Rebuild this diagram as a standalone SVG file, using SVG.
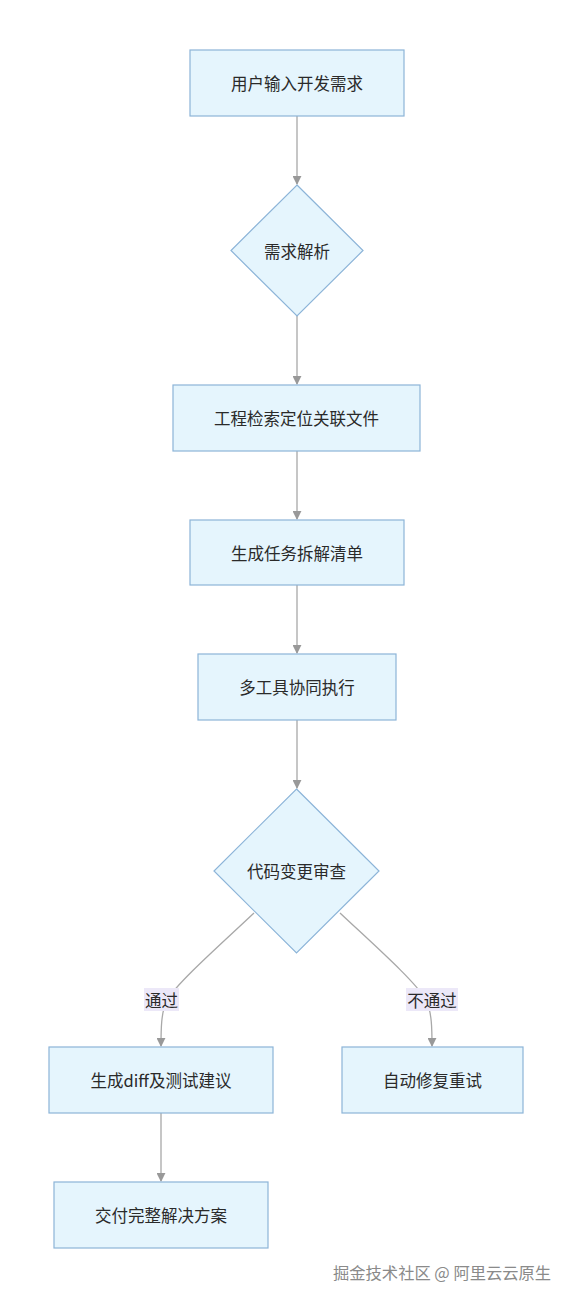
<svg xmlns="http://www.w3.org/2000/svg" width="570" height="1300" viewBox="0 0 570 1300">
<style>
.node rect, .node polygon { fill: #e5f5fd; stroke: #8cb4d8; stroke-width: 1.2; }
.lbl { font-family: "Noto Sans CJK SC", "Noto Sans", sans-serif; font-size: 16.5px; fill: #2a2a2a; text-anchor: middle; dominant-baseline: central; }
.edge { fill: none; stroke: #a8a8a8; stroke-width: 1.3; }
.elbl rect { fill: #ece8f8; }
.wm { font-family: "Noto Sans CJK SC", sans-serif; font-size: 16.3px; fill: #8a8a8a; }
</style>
<defs>
<marker id="arr" viewBox="0 0 10 10" refX="9" refY="5" markerWidth="9" markerHeight="9" markerUnits="userSpaceOnUse" orient="auto">
<path d="M0,0 L10,5 L0,10 z" fill="#999"/>
</marker>
</defs>
<rect width="570" height="1300" fill="#fff"/>
<g id="connectors">
<path class="edge" d="M297,116 L297,184" marker-end="url(#arr)"/>
<path class="edge" d="M297,316 L297,384" marker-end="url(#arr)"/>
<path class="edge" d="M297,451 L297,519" marker-end="url(#arr)"/>
<path class="edge" d="M297,585 L297,653" marker-end="url(#arr)"/>
<path class="edge" d="M297,720 L297,788" marker-end="url(#arr)"/>
<path class="edge" d="M254,913 C220,945 178,982 167,1000 C161,1012 161,1030 161,1046" marker-end="url(#arr)"/>
<path class="edge" d="M340,913 C374,945 416,982 426,1000 C432,1012 432,1030 432,1046" marker-end="url(#arr)"/>
<path class="edge" d="M161,1113 L161,1181" marker-end="url(#arr)"/>
<g class="elbl"><rect x="144" y="988" width="35" height="23"/><text class="lbl" x="161.5" y="999.5">通过</text></g>
<g class="elbl"><rect x="406" y="988" width="52" height="23"/><text class="lbl" x="432" y="999.5">不通过</text></g>
</g>
<g id="n1" class="node"><rect x="190" y="50" width="214" height="66"/><text class="lbl" x="297" y="83">用户输入开发需求</text></g>
<g id="n2" class="node"><polygon points="297,185 363,250.5 297,316 231,250.5"/><text class="lbl" x="297" y="250.5">需求解析</text></g>
<g id="n3" class="node"><rect x="173" y="385" width="247" height="66"/><text class="lbl" x="296.5" y="418">工程检索定位关联文件</text></g>
<g id="n4" class="node"><rect x="190" y="520" width="214" height="65"/><text class="lbl" x="297" y="552.5">生成任务拆解清单</text></g>
<g id="n5" class="node"><rect x="198" y="654" width="198" height="66"/><text class="lbl" x="297" y="687">多工具协同执行</text></g>
<g id="n6" class="node"><polygon points="296.5,789 379,871 296.5,953 214,871"/><text class="lbl" x="296.5" y="871">代码变更审查</text></g>
<g id="n7" class="node"><rect x="49" y="1047" width="224" height="66"/><text class="lbl" x="161" y="1080">生成diff及测试建议</text></g>
<g id="n8" class="node"><rect x="342" y="1047" width="181" height="66"/><text class="lbl" x="432.5" y="1080">自动修复重试</text></g>
<g id="n9" class="node"><rect x="54" y="1182" width="214" height="66"/><text class="lbl" x="161" y="1215">交付完整解决方案</text></g>
<text class="wm" x="333" y="1279">掘金技术社区 @ 阿里云云原生</text>
</svg>
